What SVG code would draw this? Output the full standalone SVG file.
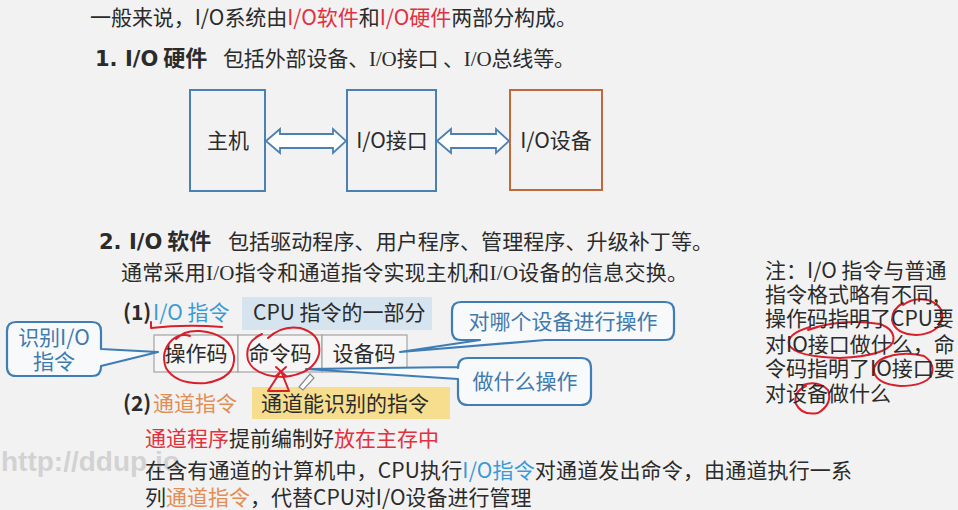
<svg xmlns="http://www.w3.org/2000/svg" width="958" height="510" viewBox="0 0 958 510">
<style>
text{font-family:"Noto Sans CJK SC","Noto Sans",sans-serif;font-size:21px;fill:#2b2b2b}
.red{fill:#e2303e}
.blue{fill:#3a9ad8}
.orange{fill:#e38d55}
.serif{font-family:"Liberation Serif","Noto Sans CJK SC",serif}
.bold{font-weight:bold}
.hd{font-family:"DejaVu Sans","Noto Sans CJK SC",sans-serif;font-weight:bold}
.box{fill:none;stroke-width:2}
.dbl{fill:#ffffff;stroke:#4a80b2;stroke-width:1.8;stroke-linejoin:miter}
.cell{fill:#f6f6f6;stroke:#a3a3a3;stroke-width:1.2}
.call{fill:#f7f9fb;stroke:#3f7db5;stroke-width:2.2;stroke-linejoin:round}
.ct{fill:#3f7aae}
.ink{fill:none;stroke:#d8202c;stroke-width:2;stroke-linecap:round;stroke-linejoin:round}
.mid{text-anchor:middle}
</style>
<rect x="0" y="0" width="958" height="510" fill="#f2f2f2"/>

<text x="1" y="471" style="font-family:'Liberation Sans',sans-serif;font-size:28px;font-weight:bold;fill:#d2d2d2">http://ddup.io</text>

<text x="90" y="25" textLength="487">一般来说，I/O系统由<tspan class="red">I/O软件</tspan>和<tspan class="red">I/O硬件</tspan>两部分构成。</text>
<text x="95" y="66"><tspan class="hd" font-size="21">1. I/O</tspan><tspan class="bold" font-size="22"> 硬件</tspan></text>
<text x="223" y="66" textLength="352">包括外部设备、<tspan class="serif">I/O</tspan>接口 、<tspan class="serif">I/O</tspan>总线等。</text>

<g id="host"><rect class="box" x="190" y="90" width="75" height="101" stroke="#4a80b2"/><text class="mid" x="228" y="148">主机</text></g>
<g id="io-interface"><rect class="box" x="347" y="90" width="89" height="101" stroke="#4a80b2"/><text class="mid" x="392" y="148">I/O接口</text></g>
<g id="io-device"><rect class="box" x="510" y="90" width="92" height="100" stroke="#c06a3c"/><text class="mid" x="556" y="148">I/O设备</text></g>

<g id="connectors">
<path class="dbl" d="M266,141 L280,129 L280,134 L333,134 L333,129 L346,141 L333,153 L333,148 L280,148 L280,153 Z"/>
<path class="dbl" d="M437,141 L451,129 L451,134 L496,134 L496,129 L509,141 L496,153 L496,148 L451,148 L451,153 Z"/>
</g>

<text x="99" y="249"><tspan class="hd" font-size="21">2. I/O</tspan><tspan class="bold" font-size="22"> 软件</tspan></text>
<text x="228" y="249" textLength="485">包括驱动程序、用户程序、管理程序、升级补丁等。</text>
<text x="121" y="280" textLength="567">通常采用<tspan class="serif">I/O</tspan>指令和通道指令实现主机和<tspan class="serif">I/O</tspan>设备的信息交换。</text>

<text x="123" y="320" font-weight="bold">(1)</text>
<text class="blue" x="153" y="320">I/O 指令</text>
<g id="cpu-part"><rect x="242" y="297" width="190" height="33" fill="#d6e4ef"/><text x="253" y="320" font-size="20">CPU 指令的一部分</text></g>

<g id="format">
<rect class="cell" x="154" y="335" width="84" height="37"/>
<rect class="cell" x="238" y="335" width="84" height="37"/>
<rect class="cell" x="322" y="335" width="85" height="37"/>
<text class="mid" x="196" y="361">操作码</text>
<text class="mid" x="280" y="361">命令码</text>
<text class="mid" x="364" y="361">设备码</text>
</g>

<g id="callout-identify">
<path class="call" d="M16,322 H92 Q101,322 101,331 V349 L158,352 L101,366 V367 Q101,376 92,376 H16 Q7,376 7,367 V331 Q7,322 16,322 Z"/>
<text class="ct mid" x="54" y="345">识别I/O</text>
<text class="ct mid" x="54" y="369">指令</text>
</g>
<g id="callout-device">
<path class="call" d="M461,302 H665 Q674,302 674,311 V331 Q674,340 665,340 H545 L400,352 L480,340 H461 Q452,340 452,331 V311 Q452,302 461,302 Z"/>
<text class="ct mid" x="563" y="329">对哪个设备进行操作</text>
</g>
<g id="callout-op">
<path class="call" d="M468,358 H581 Q591,358 591,368 V395 Q591,405 581,405 H468 Q458,405 458,395 V379 L306,369 L458,367 V368 Q458,358 468,358 Z"/>
<text class="ct mid" x="525" y="389">做什么操作</text>
</g>

<text x="123" y="411" font-weight="bold">(2)</text>
<text class="orange" x="153" y="411">通道指令</text>
<g id="channel-part"><rect x="252" y="387" width="198" height="32" fill="#f6de8e"/><text x="261" y="411" font-size="22">通道能识别的指令</text></g>

<g id="ink">
<path class="ink" d="M151,322 L151,328 Q186,324 222,327"/>
<path class="ink" d="M176,339 Q184,330 200,331 Q230,334 234,356 Q236,378 206,383 Q176,385 166,368 Q160,352 172,340 Q180,333 190,336"/>
<path class="ink" d="M268,338 Q282,325 300,328 Q322,334 319,354 Q314,374 283,377 Q254,376 248,360 Q244,342 262,334"/>
<path class="ink" d="M281,371 L268,391 L289,391 Z"/>
<path class="ink" d="M276,367 L286,376 M286,367 L276,376"/>
<path class="ink" d="M903,305 Q913,297 928,300 Q945,306 942,320 Q937,334 916,335 Q895,334 892,320 Q892,309 903,303"/>
<path class="ink" d="M808,330 Q840,318 880,324 Q896,330 893,342 Q886,356 840,358 Q796,357 789,345 Q786,334 810,327"/>
<path class="ink" d="M880,360 Q900,350 924,356 Q936,364 931,376 Q924,386 900,386 Q877,384 874,372 Q873,362 886,357"/>
<path class="ink" d="M803,385 Q818,380 828,390 Q833,404 818,413 Q802,416 796,404 Q793,392 806,386"/>
</g>
<path d="M299,387 L310,374 L314,378 L303,390 Z" fill="#ffffff" stroke="#8a8a8a" stroke-width="1.2"/>

<text x="145" y="446"><tspan class="red">通道程序</tspan>提前编制好<tspan class="red">放在主存中</tspan></text>
<text x="145" y="478" textLength="707">在含有通道的计算机中，CPU执行<tspan class="blue">I/O指令</tspan>对通道发出命令，由通道执行一系</text>
<text x="145" y="505">列<tspan class="orange">通道指令</tspan>，代替CPU对I/O设备进行管理</text>

<g id="note">
<text x="765" y="278">注：I/O 指令与普通</text>
<text x="765" y="302">指令格式略有不同,</text>
<text x="765" y="326">操作码指明了CPU要</text>
<text x="765" y="352">对IO接口做什么，命</text>
<text x="765" y="376">令码指明了IO接口要</text>
<text x="765" y="401">对设备做什么</text>
</g>
</svg>
